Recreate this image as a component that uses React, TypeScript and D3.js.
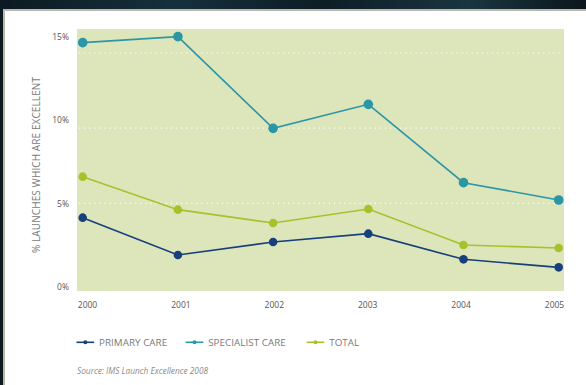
import React from "react";
import * as d3 from "d3";

const years = ["2000", "2001", "2002", "2003", "2004", "2005"];
const primaryCare = [4.16, 1.92, 2.7, 3.2, 1.66, 1.18];
const specialistCare = [14.66, 15.02, 9.52, 10.96, 6.26, 5.22];
const total = [6.62, 4.64, 3.84, 4.68, 2.52, 2.34];
const yTicks = [0, 5, 10, 15];
const yTickLabels = ["0%", "5%", "10%", "15%"];
const gridTicks = [5, 10, 15];
const seriesNames = ["PRIMARY CARE", "SPECIALIST CARE", "TOTAL"];
const seriesColors = ["#173f7b", "#2b96a5", "#a6c22b"];

const W = 586;
const H = 385;
const plot = { left: 77, right: 564, top: 29, bottom: 291 };

export default function App() {
  const x = d3.scalePoint<string>().domain(years).range([82.7, 558.7]);
  const xLab = d3.scalePoint<string>().domain(years).range([87.5, 554.5]);
  const y = d3.scaleLinear().domain([0, 15]).range([287, 37]);
  const yGrid = d3.scaleLinear().domain([0, 15]).range([278.5, 53]);
  const line = d3
    .line<number>()
    .x((_, i) => x(years[i]) as number)
    .y((v) => y(v));
  const series = [primaryCare, specialistCare, total];
  const radii = [4.3, 4.8, 4.3];
  const font = "'Open Sans', 'DejaVu Sans', sans-serif";

  const legendX = [76.5, 185.7, 306.7];

  return (
    <div style={{ position: "fixed", left: 0, top: 0 }}>
      <svg width={W} height={H} style={{ display: "block" }}>
        <defs>
          <linearGradient id="bg" x1="0" y1="0" x2="1" y2="0">
            <stop offset="0" stopColor="#0c1a22" />
            <stop offset="0.3" stopColor="#15303c" />
            <stop offset="0.55" stopColor="#0d1d26" />
            <stop offset="0.8" stopColor="#1a3540" />
            <stop offset="1" stopColor="#0b161c" />
          </linearGradient>
        </defs>
        <rect x={0} y={0} width={W} height={H} fill="url(#bg)" />
        <rect x={3} y={9} width={W - 3} height={H - 9} fill="#b9b9b0" />
        <rect x={5} y={11} width={W - 5} height={H - 11} fill="#ffffff" />

        <rect
          x={plot.left}
          y={plot.top}
          width={plot.right - plot.left}
          height={plot.bottom - plot.top}
          fill="#dde5bb"
        />
        {gridTicks.map((t) => (
          <line
            key={t}
            x1={plot.left + 2}
            x2={plot.right - 2}
            y1={yGrid(t)}
            y2={yGrid(t)}
            stroke="#ffffff"
            strokeWidth={1.2}
            strokeDasharray="1.2 3.9"
          />
        ))}

        {yTicks.map((t, i) => (
          <text
            key={t}
            x={69}
            y={y(t)}
            dy="0.35em"
            textAnchor="end"
            fontFamily={font}
            fontSize={8.5}
            fill="#555"
          >
            {yTickLabels[i]}
          </text>
        ))}

        <text
          transform={`translate(36,165) rotate(-90)`}
          textAnchor="middle"
          dy="0.35em"
          fontFamily={font}
          fontSize={10}
          letterSpacing={0.1}
          fill="#7a7a7a"
        >
          % LAUNCHES WHICH ARE EXCELLENT
        </text>

        {years.map((yr) => (
          <text
            key={yr}
            x={xLab(yr)}
            y={305}
            dy="0.35em"
            textAnchor="middle"
            fontFamily={font}
            fontSize={8.5}
            fill="#555"
          >
            {yr}
          </text>
        ))}

        {series.map((s, si) => (
          <g key={si}>
            <path
              d={line(s) || ""}
              fill="none"
              stroke={seriesColors[si]}
              strokeWidth={1.6}
            />
            {s.map((v, i) => (
              <circle
                key={i}
                cx={x(years[i])}
                cy={y(v)}
                r={radii[si]}
                fill={seriesColors[si]}
              />
            ))}
          </g>
        ))}

        {seriesNames.map((n, i) => (
          <g key={n}>
            <line
              x1={legendX[i]}
              x2={legendX[i] + 17.6}
              y1={342.3}
              y2={342.3}
              stroke={seriesColors[i]}
              strokeWidth={1.6}
            />
            <circle cx={legendX[i] + 8.8} cy={342.3} r={2} fill={seriesColors[i]} />
            <text
              x={legendX[i] + 22.5}
              y={342.3}
              dy="0.35em"
              fontFamily={font}
              fontSize={9.8}
              letterSpacing={0.05}
              fill="#7a7a7a"
            >
              {n}
            </text>
          </g>
        ))}

        <text
          x={77}
          y={371}
          dy="0.35em"
          fontFamily={font}
          fontSize={8.3}
          fontStyle="italic"
          fill="#8a8a8a"
        >
          Source: IMS Launch Excellence 2008
        </text>
      </svg>
    </div>
  );
}
